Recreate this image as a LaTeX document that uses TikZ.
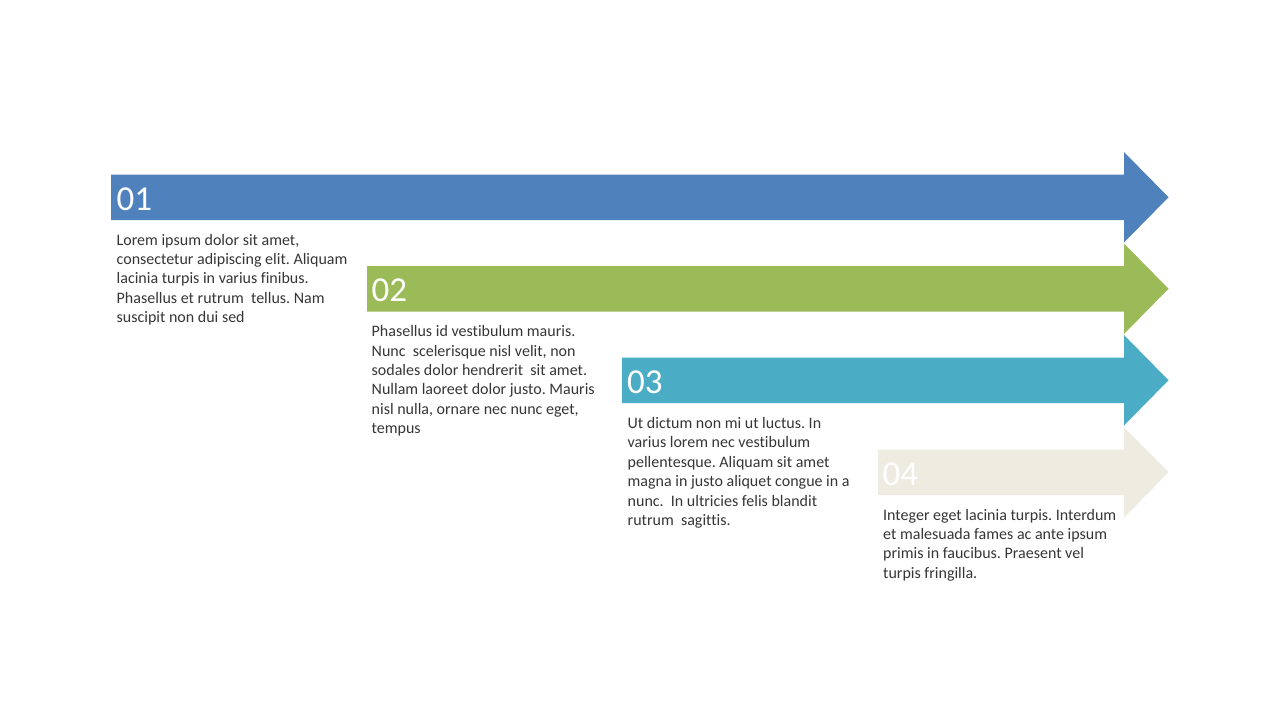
\documentclass[tikz,border=0pt]{standalone}
\usepackage{fontspec}
\setmainfont{Carlito}[Ligatures=NoCommon]
\definecolor{cblue}{HTML}{4F81BD}
\definecolor{cgreen}{HTML}{9BBB59}
\definecolor{cteal}{HTML}{4BACC6}
\definecolor{cbeige}{HTML}{EEECE1}
\definecolor{ctext}{HTML}{363636}
\frenchspacing
\begin{document}
\begin{tikzpicture}[x=1pt,y=-1pt,
  numlabel/.style={anchor=base west,inner sep=0pt,text=white,font=\fontsize{35}{40}\selectfont},
  bodytext/.style={anchor=base west,inner sep=0pt,text=ctext,font=\fontsize{16}{19.4}\selectfont}]
\useasboundingbox (0,0) rectangle (1280,720);
\fill[white] (0,0) rectangle (1280,720);
% arrows
\newcommand\myarrow[3]{% left x, body top, colour
  \fill[#3] (#1,#2) -- (1124,#2) -- (1124,#2-22.5) -- (1168.5,#2+22.75)
    -- (1124,#2+68) -- (1124,#2+45.5) -- (#1,#2+45.5) -- cycle;}
\myarrow{111}{174.5}{cblue}
\myarrow{367}{266}{cgreen}
\myarrow{622}{357.5}{cteal}
\myarrow{878}{449.5}{cbeige}
% numbers
\node[numlabel] (n1) at (116.5,210) {01};
\node[numlabel] (n2) at (371.5,301.5) {02};
\node[numlabel] (n3) at (627,393) {03};
\node[numlabel] (n4) at (882.5,485) {04};
% texts
\node[bodytext] (t1) at (116.5,245) {\parbox[t]{260pt}{\raggedright
Lorem ipsum dolor sit amet,\\
consectetur adipiscing elit. Aliquam\\
lacinia turpis in varius finibus.\\
Phasellus et rutrum\ \ tellus. Nam\\
suscipit non dui sed}};
\node[bodytext] (t2) at (371.5,336.7) {\parbox[t]{260pt}{\raggedright
Phasellus id vestibulum mauris.\\
Nunc\ \ scelerisque nisl velit, non\\
sodales dolor hendrerit\ \ sit amet.\\
Nullam laoreet dolor justo. Mauris\\
nisl nulla, ornare nec nunc eget,\\
tempus}};
\node[bodytext] (t3) at (627.5,428.4) {\parbox[t]{260pt}{\raggedright
Ut dictum non mi ut luctus. In\\
varius lorem nec vestibulum\\
pellentesque. Aliquam sit amet\\
magna in justo aliquet congue in a\\
nunc.\ \ In ultricies felis blandit\\
rutrum\ \ sagittis.}};
\node[bodytext] (t4) at (883,520.1) {\parbox[t]{260pt}{\raggedright
Integer eget lacinia turpis. Interdum\\
et malesuada fames ac ante ipsum\\
primis in faucibus. Praesent vel\\
turpis fringilla.}};
\end{tikzpicture}
\end{document}
